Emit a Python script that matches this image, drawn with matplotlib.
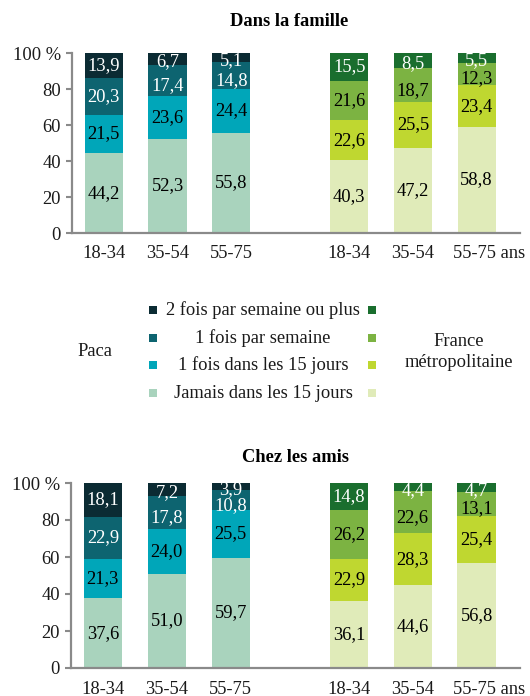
import matplotlib
matplotlib.use("Agg")
import matplotlib.pyplot as plt
from matplotlib.patches import Rectangle
from matplotlib.transforms import ScaledTranslation

plt.rcParams["font.family"] = ["Liberation Serif", "DejaVu Serif"]

FONT_SIZE = 13.3
TEXT_COLOR = "#1a1a1a"
SPINE_COLOR = "#8a8a8a"

age_groups = ["18-34", "35-54", "55-75"]
tick_labels = ["18-34", "35-54", "55-75", "18-34", "35-54", "55-75 ans"]
positions = [0, 1, 2, 3.85, 4.85, 5.85]

freq_labels = [
    "Jamais dans les 15 jours",
    "1 fois dans les 15 jours",
    "1 fois par semaine",
    "2 fois par semaine ou plus",
]

paca_colors = ["#a9d3bd", "#00a6b9", "#0d6470", "#0b2b33"]
france_colors = ["#e0ebb9", "#bfd730", "#7cb342", "#1a6e2e"]
paca_text = ["black", "black", "white", "white"]
france_text = ["black", "black", "black", "white"]

# Dans la famille
fam_paca_jamais = [44.2, 52.3, 55.8]
fam_paca_15j = [21.5, 23.6, 24.4]
fam_paca_1sem = [20.3, 17.4, 14.8]
fam_paca_2sem = [13.9, 6.7, 5.1]
fam_fr_jamais = [40.3, 47.2, 58.8]
fam_fr_15j = [22.6, 25.5, 23.4]
fam_fr_1sem = [21.6, 18.7, 12.3]
fam_fr_2sem = [15.5, 8.5, 5.5]

# Chez les amis
amis_paca_jamais = [37.6, 51.0, 59.7]
amis_paca_15j = [21.3, 24.0, 25.5]
amis_paca_1sem = [22.9, 17.8, 10.8]
amis_paca_2sem = [18.1, 7.2, 3.9]
amis_fr_jamais = [36.1, 44.6, 56.8]
amis_fr_15j = [22.9, 28.3, 25.4]
amis_fr_1sem = [26.2, 22.6, 13.1]
amis_fr_2sem = [14.8, 4.4, 4.7]


def fmt(v):
    return f"{v:.1f}".replace(".", ",")


def stacked(ax, xs, series, colors, text_colors):
    bottoms = [0.0] * len(xs)
    n = len(series)
    for k, (values, color, tcolor) in enumerate(zip(series, colors, text_colors)):
        ax.bar(xs, values, bottom=bottoms, width=0.6, color=color, linewidth=0)
        above = series[k + 1] if k + 1 < n else None
        for i, (x, b, v) in enumerate(zip(xs, bottoms, values)):
            # thin top segments push their label and the one below downwards
            dy = 0
            if v < 9:
                dy = -2.2
            elif above is not None and above[i] < 9:
                dy = -3.6
            ax.annotate(fmt(v), (x, b + v / 2), xytext=(0, dy),
                        textcoords="offset points", ha="center", va="center",
                        color=tcolor, fontsize=FONT_SIZE)
        bottoms = [b + v for b, v in zip(bottoms, values)]


def draw_panel(ax, paca, france):
    stacked(ax, positions[:3], paca, paca_colors, paca_text)
    stacked(ax, positions[3:], france, france_colors, france_text)

    ax.set_xlim(-0.5, 6.53)
    ax.set_ylim(0, 100)
    ax.set_yticks([0, 20, 40, 60, 80, 100])
    ax.set_yticklabels(["0", "20", "40", "60", "80", "100 %"])
    ax.set_xticks(positions)
    ax.set_xticklabels(tick_labels)
    ax.tick_params(axis="y", length=4, width=1.5, color=SPINE_COLOR, pad=4,
                   labelsize=FONT_SIZE, labelcolor=TEXT_COLOR)
    ax.tick_params(axis="x", length=0, pad=9, labelsize=FONT_SIZE,
                   labelcolor=TEXT_COLOR)
    for side in ("top", "right"):
        ax.spines[side].set_visible(False)
    for side in ("left", "bottom"):
        ax.spines[side].set_color(SPINE_COLOR)
        ax.spines[side].set_linewidth(1.6)

    # keep "55-75" under its bar, with "ans" trailing to the right
    last = ax.get_xticklabels()[-1]
    last.set_transform(last.get_transform()
                       + ScaledTranslation(0.125, 0, ax.figure.dpi_scale_trans))


W, H = 530, 696
fig = plt.figure(figsize=(W / 100, H / 100), dpi=100)

ax_top = fig.add_axes([72 / W, 1 - 233 / H, 448 / W, 180 / H])
ax_bot = fig.add_axes([71 / W, 1 - 668 / H, 449 / W, 185 / H])

draw_panel(ax_top,
           [fam_paca_jamais, fam_paca_15j, fam_paca_1sem, fam_paca_2sem],
           [fam_fr_jamais, fam_fr_15j, fam_fr_1sem, fam_fr_2sem])
draw_panel(ax_bot,
           [amis_paca_jamais, amis_paca_15j, amis_paca_1sem, amis_paca_2sem],
           [amis_fr_jamais, amis_fr_15j, amis_fr_1sem, amis_fr_2sem])

fig.text(289 / W, 1 - 21 / H, "Dans la famille", ha="center", va="center",
         fontsize=FONT_SIZE, fontweight="bold", color="black")
fig.text(296 / W, 1 - 458 / H, "Chez les amis", ha="center", va="center",
         fontsize=FONT_SIZE, fontweight="bold", color="black")

# shared legend between the two panels
row_y = [393, 365, 338, 310]
sq = 8
for label, y, cp, cf in zip(freq_labels, row_y, paca_colors, france_colors):
    fig.add_artist(Rectangle((149 / W, 1 - (y + sq / 2) / H), sq / W, sq / H,
                             transform=fig.transFigure, color=cp, linewidth=0))
    fig.add_artist(Rectangle((368 / W, 1 - (y + sq / 2) / H), sq / W, sq / H,
                             transform=fig.transFigure, color=cf, linewidth=0))
    fig.text(263 / W, 1 - y / H, label, ha="center", va="center",
             fontsize=FONT_SIZE, color=TEXT_COLOR)

fig.text(95 / W, 1 - 351 / H, "Paca", ha="center", va="center",
         fontsize=FONT_SIZE, color=TEXT_COLOR)
fig.text(459 / W, 1 - 352 / H, "France\nmétropolitaine", ha="center",
         va="center", fontsize=FONT_SIZE, color=TEXT_COLOR, linespacing=1.25)

fig.savefig("out.png", dpi=100)
